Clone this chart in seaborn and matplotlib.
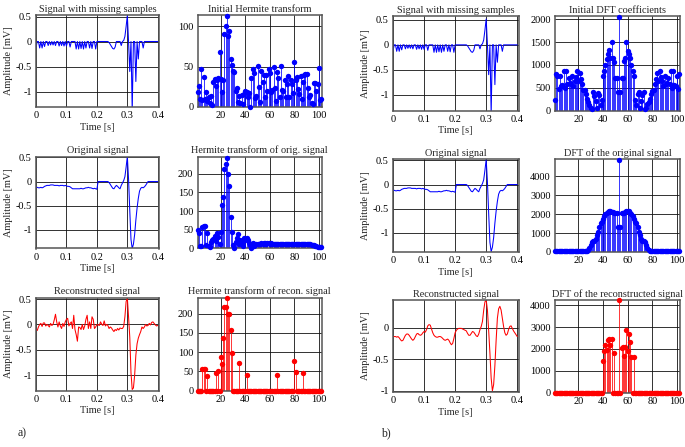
import numpy as np
import pandas as pd
import matplotlib
matplotlib.use("Agg")
import matplotlib.pyplot as plt
import seaborn as sns
from matplotlib.ticker import FuncFormatter

# ---------------- data ----------------
time_s = np.round(np.arange(101) * 0.004, 3)

orig_signal = [
    -0.12, -0.12, -0.13, -0.13, -0.12, -0.13, -0.12, -0.10, -0.09, -0.08,
    -0.08, -0.08, -0.07, -0.07, -0.07, -0.08, -0.08, -0.08, -0.08, -0.09,
    -0.08, -0.08, -0.08, -0.09, -0.08, -0.09, -0.10, -0.10, -0.11, -0.13,
    -0.15, -0.15, -0.15, -0.15, -0.15, -0.15, -0.15, -0.14, -0.15, -0.15,
    -0.14, -0.13, -0.13, -0.12, -0.13, -0.13, -0.14, -0.15, -0.14, -0.15,
    -0.16, 0, 0, 0, 0, 0, 0, 0, 0, 0,
    -0.02, -0.06, -0.10, -0.14, -0.15, -0.11, -0.08, -0.10, -0.13, -0.15,
    -0.08, -0.03, 0.02, 0.10, 0.30, 0.52, 0.05, -0.60, -1.20, -1.39,
    -1.30, -1.10, -0.80, -0.55, -0.35, -0.20, -0.14, -0.12, -0.13, -0.11,
    -0.08, -0.04, 0, 0, 0, 0, 0, 0, 0, 0,
    0]

missing_idx = [1, 2, 4, 6, 8, 9, 11, 13, 15, 17, 18, 20, 22, 24, 26, 27, 29,
               30, 31, 32, 34, 36, 38, 40, 42, 43, 45, 47, 48, 50,
               66, 67, 68, 69, 71, 76, 78, 80, 81, 83, 85, 86, 87, 89, 90, 91]

recon_herm_signal = [
    -0.08, -0.12, -0.05, 0.00, 0.02, -0.04, 0.03, 0.03, -0.03, 0.00,
    -0.02, -0.05, 0.02, -0.02, 0.00, 0.09, 0.20, 0.05, -0.05, 0.05,
    -0.03, -0.08, 0.02, -0.04, 0.05, 0.10, 0.12, -0.03, 0.02, 0.05,
    -0.08, 0.18, -0.10, -0.20, -0.33, -0.05, -0.06, -0.10, 0.00, -0.10,
    -0.03, 0.10, 0.18, -0.08, 0.05, -0.08, 0.15, 0.10, -0.08, -0.05,
    0.00, -0.01, -0.02, 0.05, 0.00, -0.02, 0.07, -0.03, 0.00, -0.02,
    -0.08, -0.05, -0.07, -0.11, -0.14, -0.10, -0.12, -0.08, -0.11, -0.07,
    -0.08, -0.08, -0.04, 0.15, 0.45, 0.52, 0.15, -0.25, -0.95, -1.28,
    -1.25, -1.00, -0.60, -0.38, -0.27, -0.20, -0.14, -0.05, -0.08, -0.05,
    0.00, -0.03, -0.02, 0.02, -0.01, 0.04, 0.05, 0.02, -0.01, -0.03,
    -0.02]

recon_dft_signal = [
    -0.14, -0.14, -0.14, -0.15, -0.14, -0.16, -0.19, -0.21, -0.20, -0.16,
    -0.12, -0.10, -0.10, -0.12, -0.15, -0.18, -0.20, -0.18, -0.14, -0.10,
    -0.09, -0.11, -0.12, -0.11, -0.08, -0.06, -0.07, -0.03, 0.03, 0.05,
    0.04, -0.02, -0.08, -0.12, -0.14, -0.15, -0.15, -0.14, -0.14, -0.15,
    -0.17, -0.19, -0.20, -0.19, -0.18, -0.20, -0.24, -0.27, -0.25, -0.17,
    -0.08, -0.04, -0.02, -0.01, -0.01, -0.01, -0.02, -0.03, -0.04, -0.05,
    -0.09, -0.12, -0.12, -0.09, -0.06, -0.07, -0.10, -0.13, -0.14, -0.10,
    -0.03, 0.02, 0.10, 0.28, 0.41, 0.44, 0.28, -0.05, -0.40, -0.80,
    -1.00, -0.90, -0.60, -0.20, 0.15, 0.30, 0.34, 0.28, 0.15, 0.02,
    -0.08, -0.12, -0.10, -0.03, 0.02, 0.03, -0.01, -0.05, -0.08, -0.11,
    -0.14]

herm_initial = [
    18, 26, 10, 47, 9, 37, 10, 18, 8, 12,
    5, 14, 3, 31, 35, 26, 33, 36, 68, 35,
    18, 34, 90, 100, 113, 88, 94, 59, 52, 44,
    43, 20, 24, 6, 14, 5, 15, 4, 16, 20,
    19, 13, 17, 0, 36, 47, 42, 11, 14, 51,
    25, 6, 45, 31, 40, 13, 40, 20, 47, 42,
    18, 21, 49, 23, 7, 43, 36, 12, 51, 21,
    20, 34, 12, 28, 38, 13, 33, 29, 17, 56,
    33, 37, 22, 16, 39, 10, 31, 40, 41, 41,
    24, 12, 15, 5, 4, 30, 30, 20, 29, 48,
    9, 10]

herm_original = [
    50, 42, 8, 6, 58, 60, 60, 10, 42, 8,
    5, 18, 24, 25, 33, 20, 42, 30, 12, 44,
    116, 138, 213, 227, 243, 200, 166, 84, 45, 9,
    0, 18, 29, 38, 12, 22, 18, 8, 29, 22,
    27, 22, 16, 9, 2, 15, 8, 10, 12, 12,
    13, 13, 14, 13, 14, 14, 13, 14, 14, 13,
    14, 13, 13, 12, 13, 12, 12, 12, 12, 12,
    11, 12, 11, 11, 12, 11, 11, 11, 12, 11,
    11, 11, 12, 12, 11, 12, 12, 12, 12, 11,
    12, 11, 11, 10, 10, 9, 8, 6, 5, 4,
    3, 3]

herm_recon_idx = [5, 6, 7, 9, 16, 18, 20, 21, 22, 23, 24, 25, 26, 27, 28, 29,
                  35, 41, 66, 80, 81, 87]
herm_recon_val = [56, 56, 56, 38, 46, 51, 87, 69, 136, 217, 218, 240, 200, 199,
                  157, 97, 72, 40, 41, 78, 47, 46]

dft_initial = [
    240, 800, 750, 470, 760, 540, 560, 870, 500, 860,
    580, 720, 600, 580, 760, 540, 650, 730, 870, 650,
    830, 690, 590, 440, 440, 355, 250, 190, 130, 60,
    30, 400, 320, 210, 60, 390, 340, 130, 240, 760,
    870, 1000, 1130, 1240, 1315, 1160, 1500, 1160, 1060, 720,
    720, 400, 2050, 400, 720, 720, 1080, 1160, 1500, 1310,
    1240, 1140, 1000, 870, 750, 240, 130, 360, 400, 60,
    210, 330, 400, 30, 60, 140, 190, 250, 360, 420,
    440, 590, 700, 820, 650, 860, 730, 650, 540, 760,
    580, 600, 720, 580, 860, 500, 870, 560, 540, 760,
    470, 800]

dft_original = [
    30, 40, 30, 40, 30, 30, 40, 30, 30, 40,
    30, 30, 40, 30, 30, 40, 30, 30, 30, 40,
    30, 40, 30, 40, 30, 40, 60, 100, 200, 350,
    530, 560, 560, 700, 900, 1050, 1300, 1520, 1600, 1760,
    1900, 2000, 2080, 2130, 2170, 2150, 2100, 2120, 2080, 2060,
    2030, 1330, 4850, 1330, 2030, 2050, 2080, 2120, 2160, 2180,
    2150, 2080, 2000, 1900, 1760, 1600, 1520, 1300, 1050, 900,
    700, 560, 560, 530, 350, 200, 100, 60, 40, 30,
    40, 30, 30, 40, 30, 30, 40, 30, 30, 40,
    30, 30, 40, 30, 30, 40, 30, 30, 40, 30,
    30, 40]

dft_recon_idx = [40, 41, 42, 43, 44, 45, 46, 47, 49, 53, 55, 56, 57, 58, 59,
                 60, 61, 62, 63, 65]
dft_recon_val = [1450, 1920, 2200, 1950, 2400, 2430, 2170, 2440, 1830, 4230,
                 2020, 2070, 1680, 2100, 2880, 1900, 2690, 2300, 1640, 1610]

n_coef = 102

# derived series
orig_arr = np.array(orig_signal, dtype=float)
missing_arr = orig_arr.copy()
missing_arr[missing_idx] = 0.0
herm_recon = np.zeros(n_coef)
herm_recon[np.array(herm_recon_idx) - 1] = herm_recon_val
dft_recon = np.zeros(n_coef)
dft_recon[np.array(dft_recon_idx) - 1] = dft_recon_val

# ---------------- style ----------------
sns.set_theme(style="white")
plt.rcParams['font.family'] = ['Liberation Serif', 'DejaVu Serif']
plt.rcParams['axes.unicode_minus'] = False
FS = 7.4

W, H = 685, 447
fig = plt.figure(figsize=(W / 100, H / 100), dpi=100)
fig.patch.set_facecolor('white')


def add_ax(l, t, r, b):
    return fig.add_axes([l / W, 1 - b / H, (r - l) / W, (b - t) / H])


gfmt = FuncFormatter(lambda v, p: f"{v:g}")
BLUE = '#0000ff'
RED = '#ff0000'


def style_ax(ax, title):
    ax.set_title(title, fontsize=FS, pad=2.5)
    ax.grid(True, color='#111111', lw=0.6)
    ax.set_axisbelow(True)
    for s in ax.spines.values():
        s.set_color('#555555')
        s.set_linewidth(1.1)
    ax.tick_params(axis='both', length=0, pad=3, labelsize=FS, colors='black')
    ax.xaxis.set_major_formatter(gfmt)
    ax.yaxis.set_major_formatter(gfmt)


def signal_panel(ax, y, color, title, ylim):
    df = pd.DataFrame({'t': time_s, 'v': y})
    sns.lineplot(data=df, x='t', y='v', ax=ax, color=color, lw=0.75)
    ax.set_xlim(0, 0.404)
    ax.set_xticks([0, 0.1, 0.2, 0.3, 0.4])
    ax.set_yticks([-1, -0.5, 0, 0.5])
    ax.set_ylim(*ylim)
    ax.set_xlabel('Time [s]', fontsize=FS, labelpad=2)
    ax.set_ylabel('Amplitude [mV]', fontsize=FS, labelpad=2)
    style_ax(ax, title)


def stem_panel(ax, vals, color, title, ylim, yticks):
    n = np.arange(1, len(vals) + 1)
    vals = np.asarray(vals, dtype=float)
    ax.vlines(n, 0, vals, color=color, lw=0.55, zorder=2)
    sns.scatterplot(x=n, y=vals, ax=ax, color=color, s=15, linewidth=0,
                    zorder=3, clip_on=False, legend=False)
    ax.set_xlim(1, 102.5)
    ax.set_ylim(*ylim)
    ax.set_xticks([20, 40, 60, 80, 100])
    ax.set_yticks(yticks)
    ax.set_xlabel('')
    ax.set_ylabel('')
    style_ax(ax, title)


# panel a
ax = add_ax(36, 15, 159, 107)
signal_panel(ax, missing_arr, BLUE, 'Signal with missing samples', (-1.31, 0.53))
ax = add_ax(197.5, 15, 322, 107)
stem_panel(ax, herm_initial, BLUE, 'Initial Hermite transform', (0, 114), [0, 50, 100])

ax = add_ax(36, 156.5, 159, 248.5)
signal_panel(ax, orig_arr, BLUE, 'Original signal', (-1.39, 0.52))
ax = add_ax(197.5, 156.5, 322, 248.5)
stem_panel(ax, herm_original, BLUE, 'Hermite transform of orig. signal', (0, 246),
           [0, 50, 100, 150, 200])

ax = add_ax(36, 297.5, 159, 390.5)
signal_panel(ax, recon_herm_signal, RED, 'Reconstructed signal', (-1.30, 0.53))
ax = add_ax(197.5, 297.5, 322, 390.5)
stem_panel(ax, herm_recon, RED, 'Hermite transform of recon. signal', (0, 242),
           [0, 50, 100, 150, 200])

# panel b
ax = add_ax(393, 16.5, 518.5, 110.5)
signal_panel(ax, missing_arr, BLUE, 'Signal with missing samples', (-1.32, 0.57))
ax = add_ax(555, 16.5, 680, 110.5)
stem_panel(ax, dft_initial, BLUE, 'Initial DFT coefficients', (0, 2060),
           [0, 500, 1000, 1500, 2000])

ax = add_ax(393, 159, 518.5, 252)
signal_panel(ax, orig_arr, BLUE, 'Original signal', (-1.40, 0.53))
ax = add_ax(555, 159, 680, 252)
stem_panel(ax, dft_original, BLUE, 'DFT of the original signal', (0, 4900),
           [0, 1000, 2000, 3000, 4000])

ax = add_ax(393, 300, 518.5, 392)
signal_panel(ax, recon_dft_signal, RED, 'Reconstructed signal', (-1.02, 0.44))
ax = add_ax(555, 300, 680, 392.5)
stem_panel(ax, dft_recon, RED, 'DFT of the reconstructed signal', (0, 4240),
           [0, 1000, 2000, 3000, 4000])

fig.text(18 / W, 1 - 436 / H, 'a)', fontsize=8.5, ha='left', va='baseline')
fig.text(381 / W, 1 - 436 / H, 'b)', fontsize=8.5, ha='left', va='baseline')

fig.savefig('out.png', dpi=100)
